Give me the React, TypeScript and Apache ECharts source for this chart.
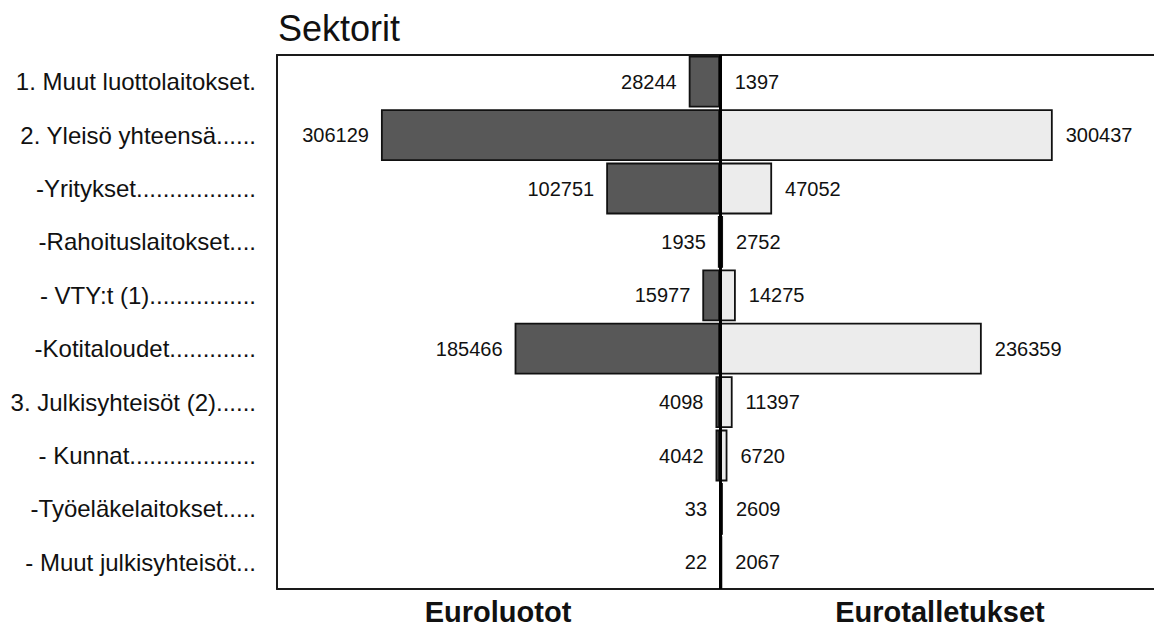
import React, { useEffect, useRef } from "react";
import * as echarts from "echarts";

const categories = [
  "1. Muut luottolaitokset.",
  "2. Yleisö yhteensä......",
  "-Yritykset..................",
  "-Rahoituslaitokset....",
  "- VTY:t (1)................",
  "-Kotitaloudet.............",
  "3. Julkisyhteisöt (2)......",
  "- Kunnat...................",
  "-Työeläkelaitokset.....",
  "- Muut julkisyhteisöt...",
];
const euroluotot = [28244, 306129, 102751, 1935, 15977, 185466, 4098, 4042, 33, 22];
const eurotalletukset = [1397, 300437, 47052, 2752, 14275, 236359, 11397, 6720, 2609, 2067];
const titleText = "Sektorit";
const leftLabel = "Euroluotot";
const rightLabel = "Eurotalletukset";

const FONT = "'Liberation Sans', Arial, Helvetica, sans-serif";

const hiddenValueAxis = (position: string) => ({
  type: "value",
  position,
  min: -400000,
  max: 400000,
  axisLine: { show: true, onZero: false, lineStyle: { color: "#1a1a1a", width: 2 } },
  axisTick: { show: false },
  axisLabel: { show: false },
  splitLine: { show: false },
});

export default function App() {
  const ref = useRef<HTMLDivElement>(null);
  useEffect(() => {
    if (!ref.current) return;
    const chart = echarts.init(ref.current, null, { renderer: "svg" });
    chart.setOption({
      animation: false,
      backgroundColor: "#ffffff",
      textStyle: { fontFamily: FONT },
      graphic: [
        {
          type: "text",
          left: 278,
          top: 10,
          style: { text: titleText, fontSize: 36, fontFamily: FONT, fill: "#111" },
        },
        {
          type: "text",
          x: 498,
          y: 612,
          style: {
            text: leftLabel,
            fontSize: 29,
            fontWeight: "bold",
            fontFamily: FONT,
            fill: "#111",
            align: "center",
            verticalAlign: "middle",
          },
        },
        {
          type: "text",
          x: 940,
          y: 612,
          style: {
            text: rightLabel,
            fontSize: 29,
            fontWeight: "bold",
            fontFamily: FONT,
            fill: "#111",
            align: "center",
            verticalAlign: "middle",
          },
        },
      ],
      grid: {
        left: 277,
        right: 37,
        top: 55,
        bottom: 38,
        show: false,
      },
      xAxis: [hiddenValueAxis("bottom"), hiddenValueAxis("top")],
      yAxis: {
        type: "category",
        data: categories,
        inverse: true,
        axisLine: { show: true, onZero: false, lineStyle: { color: "#1a1a1a", width: 2 } },
        axisTick: { show: false },
        axisLabel: {
          fontSize: 24,
          color: "#111",
          fontFamily: FONT,
          margin: 21,
          align: "right",
        },
      },
      series: [
        {
          name: leftLabel,
          type: "bar",
          stack: "s",
          barCategoryGap: "3%",
          xAxisIndex: 0,
          data: euroluotot.map((v) => -v),
          itemStyle: { color: "#585858", borderColor: "#111", borderWidth: 1.8 },
          label: {
            show: true,
            position: "left",
            distance: 12,
            fontSize: 20,
            color: "#111",
            fontFamily: FONT,
            formatter: (p: any) => String(Math.abs(p.value)),
          },
        },
        {
          name: rightLabel,
          type: "bar",
          stack: "s",
          barCategoryGap: "3%",
          xAxisIndex: 0,
          data: eurotalletukset,
          itemStyle: { color: "#ececec", borderColor: "#111", borderWidth: 1.8 },
          label: {
            show: true,
            position: "right",
            distance: 13,
            fontSize: 20,
            color: "#111",
            fontFamily: FONT,
          },
          markLine: {
            silent: true,
            symbol: "none",
            label: { show: false },
            lineStyle: { color: "#000", width: 3, type: "solid" },
            data: [{ xAxis: 0 }],
            z: 10,
          },
        },
      ],
    });
    return () => chart.dispose();
  }, []);
  return (
    <div
      style={{
        position: "absolute",
        left: 0,
        top: 0,
        width: 1154,
        height: 627,
        overflow: "hidden",
      }}
    >
      <div ref={ref} style={{ width: 1200, height: 627 }} />
    </div>
  );
}
